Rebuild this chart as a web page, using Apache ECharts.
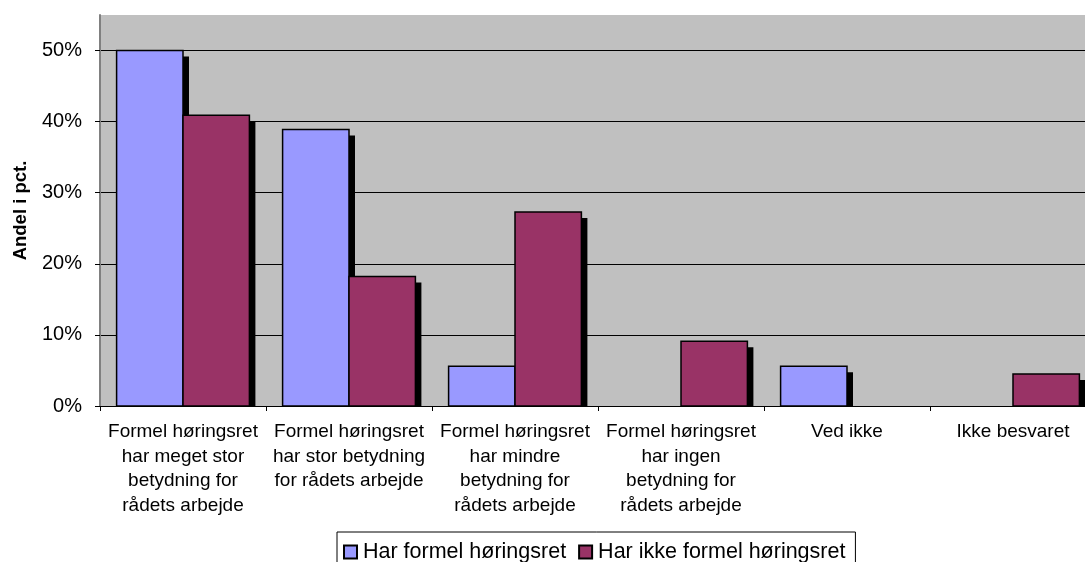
<!DOCTYPE html>
<html>
<head>
<meta charset="utf-8">
<script src="https://cdn.jsdelivr.net/npm/echarts@6/dist/echarts.min.js"></script>
<style>
  html, body { margin: 0; padding: 0; background: #fff; }
  #chart { width: 1085px; height: 562px; }
</style>
</head>
<body>
<div id="chart"></div>
<script>
// kategorier og andele (pct.)
const categories = [
  "Formel høringsret\nhar meget stor\nbetydning for\nrådets arbejde",
  "Formel høringsret\nhar stor betydning\nfor rådets arbejde",
  "Formel høringsret\nhar mindre\nbetydning for\nrådets arbejde",
  "Formel høringsret\nhar ingen\nbetydning for\nrådets arbejde",
  "Ved ikke",
  "Ikke besvaret"
];
const seriesNames = ["Har formel høringsret", "Har ikke formel høringsret"];
const harFormel = [50, 38.9, 5.6, 0, 5.6, 0];
const harIkkeFormel = [40.9, 18.2, 27.3, 9.1, 0, 4.5];
const yTicks = { min: 0, max: 55, interval: 10 };
const yTickValues = [0, 10, 20, 30, 40, 50];

const font = "'Liberation Sans', Arial, sans-serif";
const colors = ["#9999FF", "#993366"];

// søjle med skygge, tegnet via akserne
function renderBar(params, api) {
  const idx = api.value(0);
  const v = api.value(1);
  if (!v) return;
  const top = api.coord([idx, v]);
  const base = api.coord([idx, 0]);
  const catW = api.size([1, 0])[0];
  const bw = catW / 2.5;
  const x0 = top[0] - bw + params.seriesIndex * bw;
  const h = base[1] - top[1];
  const off = 6;
  return {
    type: "group",
    children: [
      {
        type: "rect",
        shape: { x: x0 + off, y: top[1] + off, width: bw, height: Math.max(h - off, 0) },
        style: { fill: "#000" }
      },
      {
        type: "rect",
        shape: { x: x0, y: top[1], width: bw, height: h },
        style: { fill: api.visual("color"), stroke: "#000", lineWidth: 1.5 }
      }
    ]
  };
}

const chart = echarts.init(document.getElementById("chart"));
chart.setOption({
  animation: false,
  textStyle: { fontFamily: font },
  grid: {
    left: 100, top: 15, width: 996, bottom: 156,
    outerBoundsMode: "none",
    containLabel: false,
    show: true, backgroundColor: "#C0C0C0", borderWidth: 0
  },
  legend: {
    left: 337, top: 532,
    padding: [9, 10, 6, 6],
    itemGap: 12,
    itemWidth: 13, itemHeight: 13,
    icon: "rect",
    borderColor: "#000", borderWidth: 1,
    backgroundColor: "#fff",
    itemStyle: { borderColor: "#000", borderWidth: 2 },
    textStyle: { fontSize: 21.5, color: "#000", fontFamily: font, padding: [0, 0, 0, 1] },
    data: seriesNames
  },
  xAxis: {
    type: "category",
    data: categories,
    boundaryGap: true,
    axisLine: { lineStyle: { color: "#000", width: 1 } },
    axisTick: { show: true, length: 5, lineStyle: { color: "#000" } },
    axisLabel: {
      interval: 0, margin: 14, fontSize: 19, lineHeight: 24.5,
      color: "#000", fontFamily: font, align: "center"
    }
  },
  yAxis: {
    type: "value",
    min: yTicks.min, max: yTicks.max, interval: yTicks.interval,
    name: "Andel i pct.",
    nameLocation: "middle",
    nameRotate: 90,
    nameGap: 70,
    nameTextStyle: { fontSize: 18.5, fontWeight: "bold", color: "#000", fontFamily: font },
    axisLine: { show: true, lineStyle: { color: "#808080", width: 2 } },
    axisTick: { show: true, length: 5, customValues: yTickValues, lineStyle: { color: "#000" } },
    axisLabel: {
      margin: 18, fontSize: 20, color: "#000", fontFamily: font,
      formatter: v => (v > 50 ? "" : v + "%")
    },
    splitLine: {
      show: true,
      lineStyle: {
        color: ["#000", "#000", "#000", "#000", "#000", "#000", "#808080"],
        width: 1
      }
    }
  },
  series: [
    {
      name: seriesNames[0],
      type: "custom",
      renderItem: renderBar,
      itemStyle: { color: colors[0] },
      encode: { x: 0, y: 1 },
      data: harFormel.map((v, i) => [i, v])
    },
    {
      name: seriesNames[1],
      type: "custom",
      renderItem: renderBar,
      itemStyle: { color: colors[1] },
      encode: { x: 0, y: 1 },
      data: harIkkeFormel.map((v, i) => [i, v])
    }
  ]
});
</script>
</body>
</html>
